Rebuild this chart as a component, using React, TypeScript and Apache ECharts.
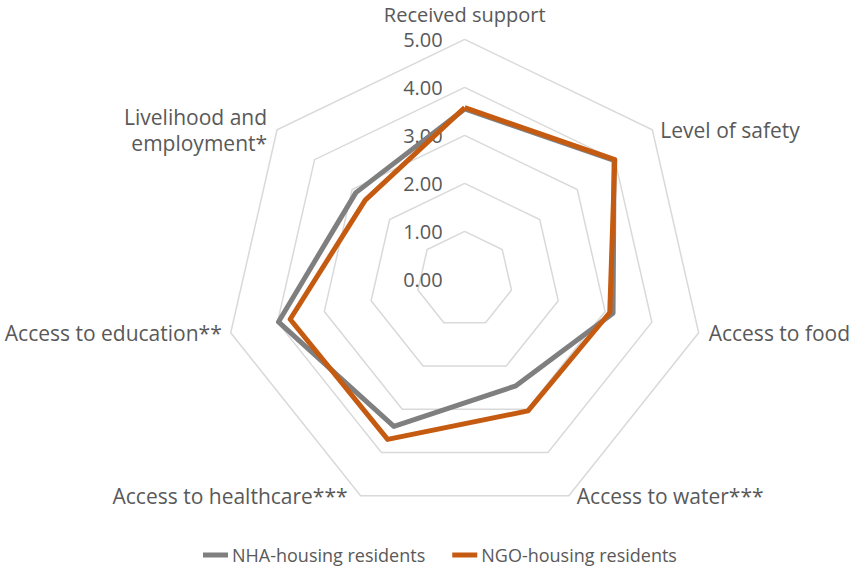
import React, { useEffect, useRef } from "react";
import * as echarts from "echarts";

// Categories in clockwise order starting from the top
const categories = [
  "Received support",
  "Level of safety",
  "Access to food",
  "Access to water***",
  "Access to healthcare***",
  "Access to education**",
  "Livelihood and\nemployment*",
];
const seriesNames = ["NHA-housing residents", "NGO-housing residents"];
const nhaValues = [3.55, 3.98, 3.17, 2.46, 3.4, 3.98, 2.9];
const ngoValues = [3.58, 4.0, 3.1, 3.04, 3.7, 3.73, 2.65];
const axisMax = 5;
const axisSplits = 5;

// Layout tweaks for each category name (clockwise order)
const nameLayout = [
  { gap: 15, padding: [0, 0, 0, 0], lineHeight: 20, size: 20 },
  { gap: 0, padding: [0, 0, 0, 8], lineHeight: 22, size: 21 },
  { gap: 0, padding: [6, 0, 0, 10], lineHeight: 22, size: 21 },
  { gap: 0, padding: [5, 0, 0, 8], lineHeight: 22, size: 21 },
  { gap: 0, padding: [5, 13, 0, 0], lineHeight: 22, size: 21 },
  { gap: 0, padding: [4, 9, 0, 0], lineHeight: 22, size: 21 },
  { gap: 0, padding: [0, 10, 0, 0], lineHeight: 26, size: 21 },
];

const FONT = "'Open Sans', 'Noto Sans', sans-serif";
const TEXT = "#595959";

export default function App() {
  const ref = useRef<HTMLDivElement>(null);
  useEffect(() => {
    if (!ref.current) return;
    const chart = echarts.init(ref.current, undefined, { renderer: "svg" });
    // ECharts places indicators counter-clockwise; reorder for clockwise layout
    const order = [0, 6, 5, 4, 3, 2, 1];
    const indicator = order.map((i, k) => ({
      name: categories[i],
      max: axisMax,
      min: 0,
      nameGap: nameLayout[i].gap,
      nameTextStyle: {
        padding: nameLayout[i].padding,
        color: TEXT,
        fontSize: nameLayout[i].size,
        lineHeight: nameLayout[i].lineHeight,
        fontFamily: FONT,
      },
      ...(k === 0
        ? {
            axisLabel: {
              show: true,
              formatter: (v: number) => v.toFixed(2),
              color: TEXT,
              fontSize: 20,
              fontFamily: FONT,
              margin: 22,
              padding: [3, 0, 0, 0],
            },
          }
        : {}),
    }));
    const reorder = (arr: number[]) => order.map((i) => arr[i]);
    chart.setOption({
      animation: false,
      backgroundColor: "#ffffff",
      legend: {
        data: seriesNames,
        left: 198,
        top: 541,
        icon: "rect",
        itemWidth: 25,
        itemHeight: 5,
        itemGap: 27,
        textStyle: { color: TEXT, fontSize: 18, fontFamily: FONT, padding: [0, 0, 0, -1] },
      },
      radar: {
        center: [464.7, 279.4],
        radius: 240,
        startAngle: 90,
        shape: "polygon",
        splitNumber: axisSplits,
        indicator,
        axisName: { color: TEXT, fontSize: 21, fontFamily: FONT },
        axisLine: { show: false },
        axisTick: { show: false },
        axisLabel: { show: false },
        splitLine: { lineStyle: { color: "#d9d9d9", width: 1.5 } },
        splitArea: { show: false },
      },
      series: [
        {
          type: "radar",
          symbol: "none",
          data: [
            {
              name: seriesNames[0],
              value: reorder(nhaValues),
              lineStyle: { color: "#7f7f7f", width: 5 },
              itemStyle: { color: "#7f7f7f" },
            },
            {
              name: seriesNames[1],
              value: reorder(ngoValues),
              lineStyle: { color: "#c55a11", width: 5 },
              itemStyle: { color: "#c55a11" },
            },
          ],
        },
      ],
    });
    return () => chart.dispose();
  }, []);
  return (
    <div
      ref={ref}
      style={{ position: "fixed", left: 0, top: 0, width: 854, height: 579 }}
    />
  );
}
